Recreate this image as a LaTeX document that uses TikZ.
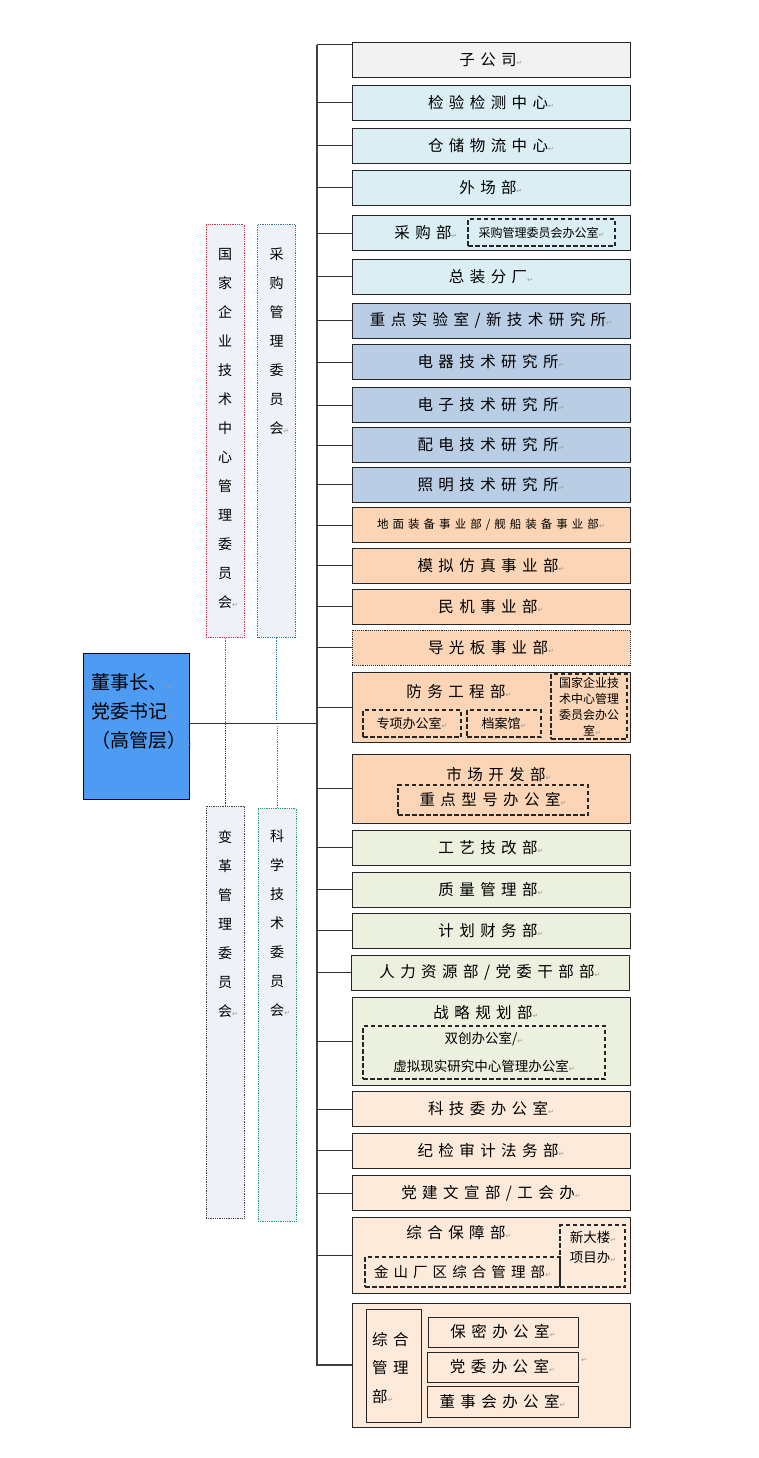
\documentclass[tikz,border=0pt]{standalone}
\usepackage{fontspec}
\usetikzlibrary{positioning}
\setmainfont{Noto Sans CJK SC}
\newfontfamily\cjk{Noto Sans CJK SC}
\newfontfamily\cjksp[LetterSpace=35]{Noto Sans CJK SC}
\newfontfamily\symf{DejaVu Sans}
\newcommand{\pmk}{{\symf\fontsize{7}{7}\selectfont\textcolor{black!40}{↵}}}

\definecolor{grayfill}{HTML}{F2F2F2}
\definecolor{cyanfill}{HTML}{DAEEF3}
\definecolor{bluefill}{HTML}{B9CDE5}
\definecolor{peachfill}{HTML}{FBD5B5}
\definecolor{greenfill}{HTML}{EBF1DE}
\definecolor{creamfill}{HTML}{FDEADA}
\definecolor{cmtfill}{HTML}{EEF1F7}
\definecolor{leadfill}{HTML}{4D9BF2}
\definecolor{cmtred}{HTML}{E0304A}
\definecolor{cmtblue}{HTML}{3278C8}
\definecolor{cmtgray}{HTML}{404040}
\definecolor{cmtgreen}{HTML}{1EA078}

\tikzset{
  dept/.style={draw=black!85, line width=0.9pt, minimum width=278pt, minimum height=35pt,
    inner sep=0pt, font=\cjksp\fontsize{15.5}{18}\selectfont},
  subbox/.style={draw=black!85, line width=1.1pt, dash pattern=on 4.5pt off 2.5pt, inner sep=0pt},
  cmt/.style={line width=0.8pt, densely dotted, fill=cmtfill, anchor=north, inner sep=0pt,
    minimum width=38pt, minimum height=413pt},
  cmttxt/.style={align=center, inner sep=0pt, font=\cjk\fontsize{14}{29}\selectfont},
  trunk/.style={draw=black!75, line width=1.2pt},
  branch/.style={draw=black!80, line width=1pt}
}

\begin{document}
\begin{tikzpicture}[x=1pt,y=-1pt]
    \fill[white] (0,0) rectangle (758,1458);

    % committees
    \node[cmt, draw=cmtred] (gjjs) at (225,224) {};
    \node[cmttxt, below=24pt of gjjs.north] (gjjst) {国\\家\\企\\业\\技\\术\\中\\心\\管\\理\\委\\员\\会\rlap{\pmk}};
    \node[cmt, draw=cmtblue] (cggl) at (276.5,224) {};
    \node[cmttxt, below=24pt of cggl.north] (cgglt) {采\\购\\管\\理\\委\\员\\会\rlap{\pmk}};
    \node[cmt, draw=cmtgray, minimum height=412pt] (bggl) at (225,806) {};
    \node[cmttxt, below=24pt of bggl.north] (bgglt) {变\\革\\管\\理\\委\\员\\会\rlap{\pmk}};
    \node[cmt, draw=cmtgreen] (kxjs) at (277,808) {};
    \node[cmttxt, below=22pt of kxjs.north] (kxjst) {科\\学\\技\\术\\委\\员\\会\rlap{\pmk}};

    % leader
    \node[draw=black!70!blue, line width=0.8pt, fill=leadfill, minimum width=106pt, minimum height=146pt] (lead) at (136,726) {};
    \node[anchor=west, align=left, inner sep=0pt, font=\cjk\fontsize{19}{29}\selectfont] (leadtxt) at (91,711) {董事长、\pmk\\党委书记\pmk\\（高管层）\pmk};

    % departments
    \node[dept, fill=grayfill] (zgs) at (491,59.5) {子公司\pmk};
    \node[dept, fill=cyanfill] (jyjc) at (491,102.5) {检验检测中心\pmk};
    \node[dept, fill=cyanfill] (ccwl) at (491,145.5) {仓储物流中心\pmk};
    \node[dept, fill=cyanfill] (wcb) at (491,188) {外场部\pmk};
    \node[dept, fill=cyanfill] (cgb) at (491,233) {};
    \node[font=\cjksp\fontsize{15.5}{18}\selectfont, inner sep=0pt] (cgbt) at (426,233) {采购部\pmk};
    \node[subbox, minimum width=147pt, minimum height=27pt, font=\cjk\fontsize{12}{14}\selectfont] (cgbgs) at (541.5,232.5) {采购管理委员会办公室\pmk};
    \node[dept, fill=cyanfill] (zzfc) at (491,276.5) {总装分厂\pmk};

    \node[dept, fill=bluefill] (zdsys) at (491,320.5) {重点实验室/新技术研究所\pmk};
    \node[dept, fill=bluefill] (dqjs) at (491,362) {电器技术研究所\pmk};
    \node[dept, fill=bluefill] (dzjs) at (491,405) {电子技术研究所\pmk};
    \node[dept, fill=bluefill] (pdjs) at (491,445) {配电技术研究所\pmk};
    \node[dept, fill=bluefill] (zmjs) at (491,484.5) {照明技术研究所\pmk};

    \node[dept, fill=peachfill, font=\cjksp\fontsize{11.5}{14}\selectfont] (dmzb) at (491,525) {地面装备事业部/舰船装备事业部\pmk};
    \node[dept, fill=peachfill] (mnfz) at (491,565.5) {模拟仿真事业部\pmk};
    \node[dept, fill=peachfill] (mjsy) at (491,606.5) {民机事业部\pmk};
    \node[dept, fill=peachfill, densely dotted] (dgb) at (491,647.5) {导光板事业部\pmk};

    \node[dept, fill=peachfill, minimum height=70pt] (fwgc) at (491,707) {};
    \node[font=\cjksp\fontsize{15.5}{18}\selectfont, inner sep=0pt] (fwgct) at (459,692) {防务工程部\pmk};
    \node[subbox, minimum width=98pt, minimum height=27pt, font=\cjk\fontsize{13}{15}\selectfont] (zxbgs) at (412,723.5) {专项办公室\pmk};
    \node[subbox, minimum width=74pt, minimum height=27pt, font=\cjk\fontsize{13}{15}\selectfont] (dag) at (504,723.5) {档案馆\pmk};
    \node[subbox, minimum width=76pt, minimum height=65pt, align=center, font=\cjk\fontsize{12}{16}\selectfont] (gjbgs) at (589,706.5) {国家企业技\\术中心管理\\委员会办公\\室\rlap{\pmk}};

    \node[dept, fill=peachfill, minimum height=69pt] (sckf) at (491,788.5) {};
    \node[font=\cjksp\fontsize{15.5}{18}\selectfont, inner sep=0pt] (sckft) at (499,775) {市场开发部\pmk};
    \node[subbox, minimum width=190pt, minimum height=30pt, font=\cjksp\fontsize{15.5}{18}\selectfont] (zdxh) at (493,800) {重点型号办公室\pmk};

    \node[dept, fill=greenfill] (gyjg) at (491,847.5) {工艺技改部\pmk};
    \node[dept, fill=greenfill] (zlgl) at (491,889.5) {质量管理部\pmk};
    \node[dept, fill=greenfill] (jhcw) at (491,930.5) {计划财务部\pmk};
    \node[dept, fill=greenfill] (rlzy) at (490,972.5) {人力资源部/党委干部部\pmk};
    \node[dept, fill=greenfill, minimum height=88pt] (zlgh) at (491,1041) {};
    \node[font=\cjksp\fontsize{15.5}{18}\selectfont, inner sep=0pt] (zlght) at (486,1013) {战略规划部\pmk};
    \node[subbox, minimum width=242pt, minimum height=53pt, align=center, font=\cjk\fontsize{13.5}{28}\selectfont] (scbgs) at (484,1052.5) {双创办公室/\pmk\\虚拟现实研究中心管理办公室\pmk};

    \node[dept, fill=creamfill] (kjw) at (491,1109) {科技委办公室\pmk};
    \node[dept, fill=creamfill] (jjsj) at (491,1150.5) {纪检审计法务部\pmk};
    \node[dept, fill=creamfill] (djwx) at (491,1193) {党建文宣部/工会办\pmk};
    \node[dept, fill=creamfill, minimum height=76pt] (zhbz) at (491,1255) {};
    \node[font=\cjksp\fontsize{15.5}{18}\selectfont, inner sep=0pt] (zhbzt) at (459,1233) {综合保障部\pmk};
    \node[subbox, minimum width=195pt, minimum height=30pt, font=\cjksp\fontsize{14.5}{17}\selectfont] (jscq) at (462.5,1272) {金山厂区综合管理部\pmk};
    \node[subbox, minimum width=65pt, minimum height=62pt] (xdl) at (592.5,1256) {};
    \node[align=center, inner sep=0pt, font=\cjk\fontsize{13.5}{20}\selectfont] (xdlt) at (593,1247) {新大楼\pmk\\项目办\pmk};

    \node[dept, fill=creamfill, minimum height=124pt] (zhgl) at (491,1365) {};
    \node[draw=black!85, line width=0.9pt, minimum width=55pt, minimum height=113pt] (zhglv) at (393.5,1365.5) {};
    \node[anchor=west, align=left, inner sep=0pt, font=\cjksp\fontsize{15.5}{28.5}\selectfont] (zhglt) at (372,1368) {综合\\管理\\部\pmk};
    \node[dept, minimum width=150pt, minimum height=30pt] (bmbgs) at (503,1332) {保密办公室\pmk};
    \node[dept, minimum width=151pt, minimum height=30pt] (dwbgs) at (502.5,1367) {党委办公室\pmk};
    \node[dept, minimum width=151pt, minimum height=31pt] (dshbgs) at (502.5,1401.5) {董事会办公室\pmk};
    \node[inner sep=0pt] (strayp) at (584,1360) {\pmk};

    % links
    \coordinate (tp) at (317,45);
    \coordinate (jn) at (317,723);
    \draw[cmtred, densely dotted, line width=0.8pt] (gjjs.south) -- (gjjs.south |- jn);
    \draw[cmtgray, densely dotted, line width=0.8pt] (bggl.north) -- (bggl.north |- jn);
    \draw[cmtblue, densely dotted, line width=0.8pt, shorten >=3pt] (cggl.south) -- (cggl.south |- jn);
    \draw[cmtgreen, densely dotted, line width=0.8pt, shorten >=3pt] (kxjs.north) -- (kxjs.north |- jn);
    \draw[branch] (lead.east |- jn) -- (jn);

    \draw[trunk] (tp) -- (tp |- zhgl.west) -- (zhgl.west);
    \draw[branch] (tp) -- (tp -| zgs.west);
    \foreach \d in {jyjc,ccwl,wcb,cgb,zzfc,zdsys,dqjs,dzjs,pdjs,zmjs,dmzb,mnfz,mjsy,dgb,fwgc,sckf,gyjg,zlgl,jhcw,rlzy,zlgh,kjw,jjsj,djwx,zhbz}
        \draw[branch] (\d.west) -- (\d.west -| tp);
\end{tikzpicture}
\end{document}
